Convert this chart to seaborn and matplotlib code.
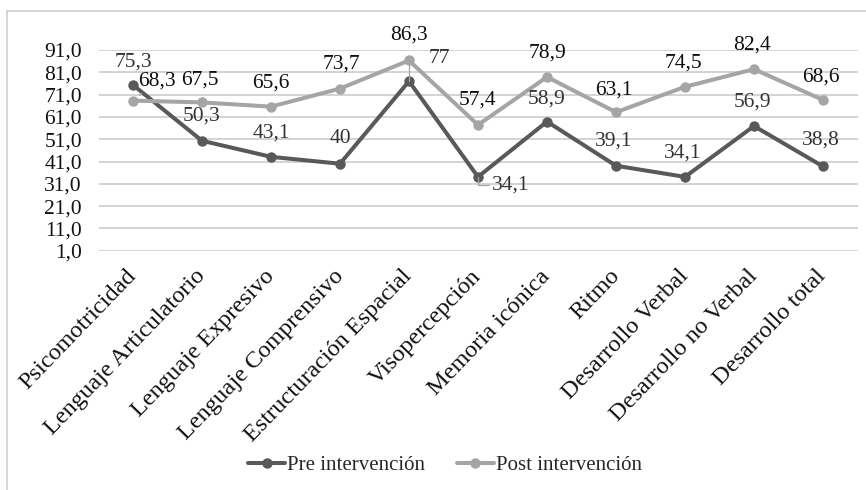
import matplotlib
matplotlib.use("Agg")
import matplotlib.pyplot as plt
from matplotlib.lines import Line2D
import seaborn as sns
import pandas as pd

categories = [
    "Psicomotricidad", "Lenguaje Articulatorio", "Lenguaje Expresivo",
    "Lenguaje Comprensivo", "Estructuración Espacial", "Visopercepción",
    "Memoria icónica", "Ritmo", "Desarrollo Verbal", "Desarrollo no Verbal",
    "Desarrollo total",
]
pre_values = [75.3, 50.3, 43.1, 40, 77, 34.1, 58.9, 39.1, 34.1, 56.9, 38.8]
post_values = [68.3, 67.5, 65.6, 73.7, 86.3, 57.4, 78.9, 63.1, 74.5, 82.4, 68.6]
pre_text = ["75,3", "50,3", "43,1", "40", "77", "34,1", "58,9", "39,1", "34,1", "56,9", "38,8"]
post_text = ["68,3", "67,5", "65,6", "73,7", "86,3", "57,4", "78,9", "63,1", "74,5", "82,4", "68,6"]
series_names = ["Pre intervención", "Post intervención"]
y_ticks = [1, 11, 21, 31, 41, 51, 61, 71, 81, 91]

PRE_COLOR = "#595959"
POST_COLOR = "#a5a5a5"

sns.set_theme(style="white")
plt.rcParams["font.family"] = ["Liberation Serif", "DejaVu Serif"]

df = pd.DataFrame({
    "categoria": categories * 2,
    "valor": pre_values + post_values,
    "serie": [series_names[0]] * len(categories) + [series_names[1]] * len(categories),
})
df["pos"] = list(range(len(categories))) * 2

fig = plt.figure(figsize=(8.66, 4.90), dpi=100)
ax = fig.add_axes([98.5 / 866, 1 - 250.7 / 490, 759 / 866, 200.7 / 490])

sns.lineplot(
    data=df, x="pos", y="valor", hue="serie", sort=False,
    palette={series_names[0]: PRE_COLOR, series_names[1]: POST_COLOR},
    marker="o", markersize=7.5, markeredgewidth=0, linewidth=2.9,
    ax=ax, legend=False, zorder=3,
)

ax.set_xlim(-0.5, len(categories) - 0.5)
ax.set_ylim(1, 91)
ax.set_yticks(y_ticks)
ax.set_yticklabels([f"{v:.1f}".replace(".", ",") for v in y_ticks])
ax.set_xticks(range(len(categories)))
ax.set_xticklabels(categories, rotation=46, ha="right", va="center",
                   rotation_mode="anchor")
ax.set_xlabel("")
ax.set_ylabel("")
ax.tick_params(axis="y", length=0, pad=12, labelsize=15.5, colors="#111111")
ax.tick_params(axis="x", length=0, pad=16, labelsize=17.5, colors="#111111")
ax.grid(axis="y", color="#d0d0d0", linewidth=1.3)
ax.grid(axis="x", visible=False)
for s in ax.spines.values():
    s.set_visible(False)

# data labels: (dx, dy) offsets in pixels from each point
pre_offsets = [(0, 23), (0, 25), (0, 24), (0, 25), (30, 23), (33, -8),
               (0, 23), (-2, 25), (-2, 24), (-2, 24), (-2, 26)]
post_offsets = [(24, 20), (-2, 22), (0, 24), (1, 25), (0, 25), (-1, 25),
                (0, 24), (-2, 22), (-2, 24), (-2, 24), (-2, 23)]
leader = {
    ("pre", 4): dict(arrowstyle="-", color="#a5a5a5", lw=0.9,
                     connectionstyle="angle,angleA=0,angleB=90",
                     shrinkA=10, shrinkB=0),
    ("pre", 5): dict(arrowstyle="-", color="#a5a5a5", lw=0.9,
                     connectionstyle="angle,angleA=0,angleB=90",
                     shrinkA=18, shrinkB=0),
    ("post", 0): dict(arrowstyle="-", color="#a5a5a5", lw=0.9,
                      shrinkA=10, shrinkB=6),
}

for key, vals, texts, offs, col in [
    ("pre", pre_values, pre_text, pre_offsets, "#333333"),
    ("post", post_values, post_text, post_offsets, "#0d0d0d"),
]:
    for i, (v, t, (dx, dy)) in enumerate(zip(vals, texts, offs)):
        ax.annotate(
            t, xy=(i, v), xytext=(dx, dy), textcoords="offset pixels",
            ha="center", va="center", fontsize=15.5, color=col, zorder=5,
            arrowprops=leader.get((key, i)),
        )

handles = [
    Line2D([], [], color=PRE_COLOR, marker="o", markersize=7.5, markeredgewidth=0, linewidth=2.9),
    Line2D([], [], color=POST_COLOR, marker="o", markersize=7.5, markeredgewidth=0, linewidth=2.9),
]
fig.legend(handles, series_names, loc="center", bbox_to_anchor=(445 / 866, 1 - 465 / 490),
           ncol=2, frameon=False, fontsize=15, handlelength=1.8, handletextpad=0.1,
           columnspacing=1.5)

# chart area border (top and left edges)
fig.add_artist(Line2D([7.5 / 866, 1], [1 - 11 / 490, 1 - 11 / 490],
                      transform=fig.transFigure, color="#d0d0d0", lw=1.2))
fig.add_artist(Line2D([7.5 / 866, 7.5 / 866], [0, 1 - 11 / 490],
                      transform=fig.transFigure, color="#d0d0d0", lw=1.2))

fig.savefig("out.png", dpi=100)
